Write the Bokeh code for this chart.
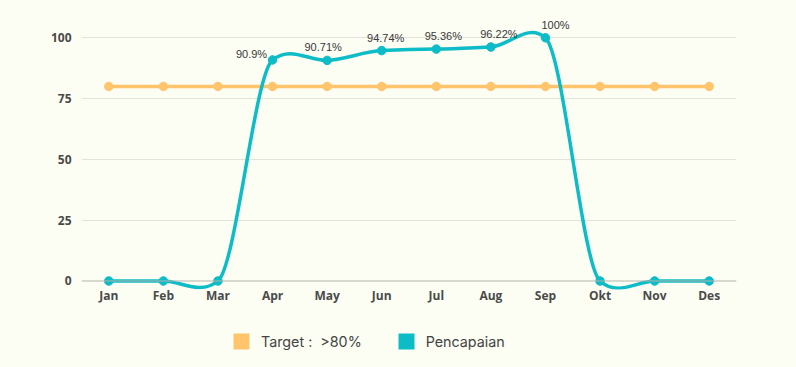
import math
from bokeh.plotting import figure
from bokeh.layouts import column
from bokeh.models import Range1d, FixedTicker, Span, Legend, LegendItem, ColumnDataSource
from bokeh.core.properties import value
from bokeh.embed import file_html
from bokeh.resources import INLINE

months = ["Jan", "Feb", "Mar", "Apr", "May", "Jun", "Jul", "Aug", "Sep", "Okt", "Nov", "Des"]
target = [80, 80, 80, 80, 80, 80, 80, 80, 80, 80, 80, 80]
pencapaian = [0, 0, 0, 90.9, 90.71, 94.74, 95.36, 96.22, 100, 0, 0, 0]
y_ticks = [0, 25, 50, 75, 100]

BG = "#fcfdf3"
TEAL = "#0dbcc6"
ORANGE = "#ffc46c"
TXT = "#4a4a4a"

p = figure(width=796, height=315, output_backend="svg", toolbar_location=None,
           x_range=Range1d(-0.5, 11.5), y_range=Range1d(-3.5, 110),
           min_border_left=81, min_border_right=60, min_border_top=13, min_border_bottom=26,
           background_fill_color=BG, border_fill_color=BG, outline_line_color=None)

xs = list(range(len(months)))

# y axis
p.yaxis.ticker = FixedTicker(ticks=y_ticks)
p.yaxis.axis_line_color = None
p.yaxis.major_tick_line_color = None
p.yaxis.major_tick_out = 0
p.yaxis.major_tick_in = 0
p.yaxis.minor_tick_line_color = None
p.yaxis.major_label_text_font = "Open Sans"
p.yaxis.major_label_text_font_style = "bold"
p.yaxis.major_label_text_font_size = "12px"
p.yaxis.major_label_text_color = TXT
p.yaxis.major_label_standoff = 10
p.ygrid.ticker = FixedTicker(ticks=[25, 50, 75, 100])
p.ygrid.grid_line_color = "#e3e3dc"
p.xgrid.grid_line_color = None

# x axis
p.xaxis.ticker = FixedTicker(ticks=xs)
p.xaxis.major_label_overrides = {i: m for i, m in enumerate(months)}
p.xaxis.axis_line_color = None
p.xaxis.major_tick_line_color = None
p.xaxis.major_tick_out = 0
p.xaxis.major_tick_in = 0
p.xaxis.minor_tick_line_color = None
p.xaxis.major_label_text_font = "Open Sans"
p.xaxis.major_label_text_font_style = "bold"
p.xaxis.major_label_text_font_size = "12px"
p.xaxis.major_label_text_color = TXT
p.xaxis.major_label_standoff = -3

p.add_layout(Span(location=0, dimension="width", line_color="#b4b4ad", line_width=1))

# target line
p.line(xs, target, line_color=ORANGE, line_width=3.5)
p.scatter(xs, target, size=8.5, fill_color=ORANGE, line_color=ORANGE)

# smooth spline for pencapaian via bezier segments
k = 0.067
n = len(pencapaian)
x0, y0, x1, y1, cx0, cy0, cx1, cy1 = [], [], [], [], [], [], [], []
for i in range(n - 1):
    yp = pencapaian[i - 1] if i > 0 else pencapaian[i]
    yn2 = pencapaian[i + 2] if i + 2 < n else pencapaian[i + 1]
    x0.append(i); y0.append(pencapaian[i])
    x1.append(i + 1); y1.append(pencapaian[i + 1])
    cx0.append(i + 1 / 3); cy0.append(pencapaian[i] + k * (pencapaian[i + 1] - yp))
    cx1.append(i + 2 / 3); cy1.append(pencapaian[i + 1] - k * (yn2 - pencapaian[i]))
p.bezier(x0=x0, y0=y0, x1=x1, y1=y1, cx0=cx0, cy0=cy0, cx1=cx1, cy1=cy1,
         line_color=TEAL, line_width=3.5)
p.scatter(xs, pencapaian, size=8.5, fill_color=TEAL, line_color=TEAL)

# data labels
label_dx = [0, 0, 0, -21, -4, 4, 7, 8, 10, 0, 0, 0]
label_dy = [0, 0, 0, 6, 13, 13, 13, 13, 13, 0, 0, 0]
lab = {"x": [], "y": [], "t": [], "dx": [], "dy": []}
for i, v in enumerate(pencapaian):
    if v > 0:
        lab["x"].append(i); lab["y"].append(v); lab["t"].append(f"{v:g}%")
        lab["dx"].append(label_dx[i]); lab["dy"].append(-label_dy[i])
src = ColumnDataSource(lab)
p.text(x="x", y="y", text="t", x_offset="dx", y_offset="dy", source=src,
       text_align="center", text_baseline="middle", text_font=value("Liberation Sans"),
       text_font_size="11px", text_color="#383838")

# legend figure
lf = figure(width=796, height=52, output_backend="svg", toolbar_location=None,
            x_axis_type=None, y_axis_type=None, x_range=Range1d(0, 1), y_range=Range1d(0, 1),
            min_border=0, background_fill_color=BG, border_fill_color=BG, outline_line_color=None)
lf.grid.visible = False
l1 = lf.rect(x=[math.nan], y=[math.nan], width=1, height=1, fill_color=ORANGE, line_color=None)
l2 = lf.rect(x=[math.nan], y=[math.nan], width=1, height=1, fill_color=TEAL, line_color=None)
legend = Legend(items=[LegendItem(label="Target :  >80%", renderers=[l1]),
                       LegendItem(label="Pencapaian", renderers=[l2])],
                orientation="horizontal", location=(150, 16),
                glyph_width=20, glyph_height=20, label_standoff=10, spacing=34,
                label_text_font="Inter", label_text_font_size="14.3px", label_text_color="#444444",
                background_fill_alpha=0, border_line_color=None, margin=0, padding=0)
lf.add_layout(legend, "center")

html = file_html(column(p, lf, spacing=0), INLINE)
html = html.replace("</head>", "<style>body{background:%s;}</style></head>" % BG, 1)
open("out.html", "w").write(html)
